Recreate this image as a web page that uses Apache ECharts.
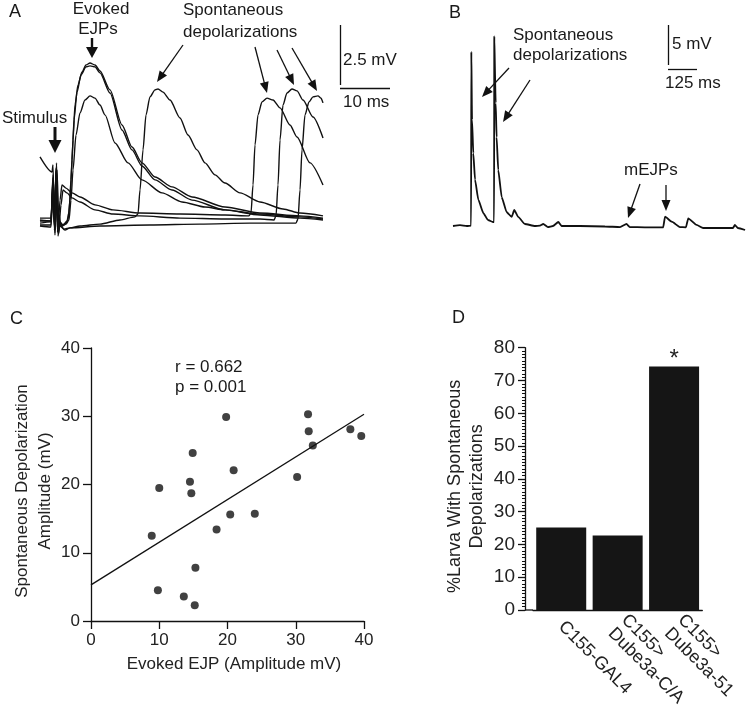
<!DOCTYPE html>
<html>
<head>
<meta charset="utf-8">
<script src="https://cdn.jsdelivr.net/npm/echarts@6/dist/echarts.min.js"></script>
<style>
html,body{margin:0;padding:0;background:#fff;}
#chart{width:748px;height:710px;}
</style>
</head>
<body>
<div id="chart"></div>
<script>
// ---------- Panel A: overlaid sweeps, time (ms) vs membrane potential (mV, relative) ----------
const sweepEvoked1 = [[0.4,2.63],[2.8,2.0],[3.0,2.29],[3.3,-0.42],[3.6,2.17],[3.9,-0.5],[4.2,0.21],[4.6,-0.25],[5.2,-0.17],[5.8,-0.04],[6.2,0.33],[6.6,1.67],[7.0,3.33],[7.4,4.79],[8.0,5.63],[8.8,6.17],[9.6,6.46],[10.4,6.54],[11.4,6.46],[12.4,6.21],[14.4,5.42],[16.8,3.96],[18.8,3.04],[20.8,2.38],[23.4,1.79],[26.8,1.38],[30.8,0.96],[37.4,0.54],[44.4,0.29],[52.4,0.17],[57.0,0.08]];
const sweepEvoked2 = [[0.4,0],[2.6,-0.04],[3.0,1.88],[3.4,-0.33],[3.7,2.38],[4.0,-0.67],[4.4,-0.08],[5.0,-0.21],[5.6,-0.13],[6.0,0],[6.4,0.83],[6.8,2.5],[7.2,4.17],[7.8,5.33],[8.6,6.04],[9.6,6.38],[10.4,6.42],[11.4,6.38],[12.4,6.13],[14.4,5.29],[16.8,3.75],[18.8,2.92],[20.8,2.25],[23.4,1.67],[26.8,1.25],[30.8,0.83],[37.4,0.42],[44.4,0.21],[52.4,0.08],[57.0,0]];
const sweepEvoked3 = [[0.4,-0.13],[2.6,-0.08],[3.0,1.67],[3.3,-0.21],[3.6,2.08],[3.9,-0.42],[4.2,0],[4.8,-0.25],[5.6,-0.17],[6.2,0],[6.6,0.83],[7.0,2.08],[7.6,3.54],[8.4,4.46],[9.4,5.0],[10.4,5.17],[11.4,5.08],[12.4,4.79],[13.4,4.38],[15.4,3.21],[18.0,2.38],[20.8,1.67],[24.8,1.13],[28.8,0.75],[33.4,0.54],[37.4,0.42],[44.4,0.25],[52.4,0.13],[57.0,0.04]];
const sweepSpont1 = [[0.4,-0.25],[2.6,-0.29],[3.0,1.46],[3.4,-0.63],[3.7,1.88],[4.0,-0.33],[4.4,-0.25],[5.4,-0.42],[6.4,-0.33],[8.4,-0.25],[12.4,-0.17],[16.4,0],[19.4,0.13],[20.0,0.25],[20.4,1.25],[21.0,2.92],[21.6,4.38],[22.4,5.13],[23.4,5.42],[24.0,5.46],[25.0,5.33],[26.4,5.0],[28.4,4.25],[30.0,3.54],[31.8,2.92],[33.4,2.38],[35.4,1.88],[37.4,1.54],[40.4,1.13],[44.4,0.75],[49.0,0.46],[52.4,0.29],[57.0,0.17]];
const sweepSpont2 = [[0.4,0.08],[2.6,0.08],[3.0,1.25],[3.3,-0.33],[3.6,2.0],[4.0,-0.5],[4.4,0.83],[4.8,1.46],[5.6,1.33],[6.8,1.13],[8.4,0.96],[11.4,0.63],[15.0,0.42],[20.4,0.29],[28.4,0.25],[37.4,0.21],[42.2,0.17],[42.6,0.29],[43.0,1.46],[43.4,3.13],[44.0,4.38],[44.8,4.92],[45.8,5.08],[47.0,5.0],[48.4,4.67],[50.4,3.96],[51.8,3.46],[54.4,2.38],[57.0,1.46]];
const sweepSpont3 = [[0.4,-0.04],[2.6,-0.04],[3.0,1.75],[3.4,-0.54],[3.8,2.08],[4.2,-0.25],[4.6,0.63],[5.0,1.25],[5.8,1.13],[6.8,0.92],[8.4,0.75],[11.4,0.42],[15.0,0.25],[20.4,0.17],[28.4,0.08],[37.4,0.04],[44.4,0.04],[47.2,0],[47.6,0.17],[48.0,1.46],[48.4,3.33],[49.0,4.79],[49.8,5.29],[50.8,5.46],[51.8,5.38],[53.0,5.0],[55.0,4.29],[57.0,3.42]];
const sweepSpont4 = [[0.4,-0.21],[2.6,-0.21],[3.0,1.58],[3.4,-0.42],[3.7,2.25],[4.1,-0.58],[4.4,-0.17],[5.2,-0.38],[6.4,-0.33],[12.4,-0.25],[22.4,-0.21],[32.4,-0.17],[42.4,-0.13],[51.6,-0.13],[52.0,0.04],[52.4,1.25],[52.8,2.92],[53.4,4.38],[54.2,4.92],[55.0,5.13],[56.0,5.17],[56.6,5.08],[57.0,4.88]];
const scaleBarA = {x: 60.4, y: 5.5, ms: 10, mV: 2.5, gap: 0.125};

// ---------- Panel B: continuous recording, time (ms) vs mV ----------
const recordingB = [[0,0],[30,0.1],[60,0],[78,0.05],[79,21.8],[80.5,21.8],[82,13.3],[87.5,9.1],[95,5.8],[109,3.3],[131,1.6],[151,0.75],[172,0.5],[177,0.5],[178,23.7],[179.5,23.7],[184,15.4],[188,11.1],[195,7.0],[210,3.6],[231,1.75],[253,1.13],[264,2.0],[281,1.13],[310,0.25],[353,0],[375,0.05],[389,0.25],[409,-0.13],[431,0],[454,0.5],[468,0],[547,0],[655,-0.06],[720,-0.13],[748,0.25],[762,-0.13],[827,-0.16],[906,-0.16],[914,1.16],[943,0.54],[978,-0.13],[1004,-0.16],[1014,0.96],[1050,0.13],[1078,-0.25],[1151,-0.25],[1207,-0.25],[1215,0.13],[1228,-0.25],[1259,-0.5]];
const scaleBarB = {x: 926.7, y: 19.625, ms: 125, mV: 5, gap: 0.5};

// ---------- Panel C: correlation ----------
const evokedEJP = [8.9, 10.0, 9.8, 14.5, 14.7, 14.9, 15.3, 13.6, 15.2, 18.4, 19.8, 20.4, 20.9, 24.0, 30.2, 31.8, 31.9, 32.5, 38.0, 39.6];
const spontAmp  = [12.5, 19.5, 4.5, 20.4, 18.7, 24.6, 7.8, 3.6, 2.3, 13.4, 29.9, 15.6, 22.1, 15.7, 21.1, 30.3, 27.8, 25.7, 28.1, 27.1];
const fitX = [0, 40];
const fitY = [5.3, 30.3];
const ticksC = [0, 10, 20, 30, 40];

// ---------- Panel D: bar chart ----------
const genotypes = ['C155-GAL4', 'C155>\nDube3a-C/A', 'C155>\nDube3a-51'];
const pctLarva = [25.2, 22.7, 74.3];
const significance = ['', '', '*'];

// ---------- helpers ----------
const FONT = '"Liberation Sans", Arial, Helvetica, sans-serif';
const INK = '#1a1a1a';
function txt(s, x, y, fs, align) {
  return {type: 'text', x: x, y: y, silent: true,
    style: {text: s, fontFamily: FONT, fontSize: fs, fill: INK, align: align || 'left', verticalAlign: 'middle'}};
}
function arrow(x1, y1, x2, y2, o) {
  o = o || {};
  const hl = o.hl || 11, hw = o.hw || 9, lw = o.lw || 1.3;
  const dx = x2 - x1, dy = y2 - y1, L = Math.hypot(dx, dy), ux = dx / L, uy = dy / L;
  const bx = x2 - ux * hl, by = y2 - uy * hl, px = -uy, py = ux;
  return [
    {type: 'line', silent: true, shape: {x1: x1, y1: y1, x2: bx + ux * 1, y2: by + uy * 1}, style: {stroke: '#111', lineWidth: lw}},
    {type: 'polygon', silent: true, shape: {points: [[x2, y2], [bx + px * hw / 2, by + py * hw / 2], [bx - px * hw / 2, by - py * hw / 2]]}, style: {fill: '#111'}}
  ];
}
function traceSeries(data, xi, w) {
  return {type: 'line', xAxisIndex: xi, yAxisIndex: xi, data: data, showSymbol: false, symbol: 'none',
    smooth: 0.25, smoothMonotone: 'x', silent: true, lineStyle: {color: '#111', width: w}, z: 3};
}
function scaleBars(sb) {
  return {silent: true, symbol: ['none', 'none'], label: {show: false}, animation: false,
    lineStyle: {color: '#111', width: 1.3, type: 'solid'},
    data: [
      [{coord: [sb.x, sb.y + sb.gap]}, {coord: [sb.x, sb.y + sb.gap + sb.mV]}],
      [{coord: [sb.x, sb.y]}, {coord: [sb.x + sb.ms, sb.y]}]
    ]};
}

const chart = echarts.init(document.getElementById('chart'), null, {renderer: 'canvas'});

const axisLineStyle = {color: '#111', width: 1.3};
const hiddenAxis = (gi, min, max) => ({gridIndex: gi, type: 'value', min: min, max: max, show: false});

const seriesA = [sweepEvoked1, sweepEvoked2, sweepEvoked3, sweepSpont1, sweepSpont2, sweepSpont3, sweepSpont4]
  .map(d => traceSeries(d, 0, 1.4));
seriesA[0].markLine = scaleBars(scaleBarA);
const seriesB = traceSeries(recordingB, 1, 1.8);
seriesB.smooth = 0.15;
seriesB.markLine = scaleBars(scaleBarB);

const graphics = [].concat(
  // panel letters
  txt('A', 9, 12, 18), txt('B', 449, 13, 18), txt('C', 10, 319, 18), txt('D', 452, 318, 18),
  // panel A annotations
  txt('Evoked', 101, 9, 17, 'center'), txt('EJPs', 98, 29, 17, 'center'),
  arrow(92, 38, 92, 58, {hl: 11, hw: 12, lw: 2.4}),
  txt('Stimulus', 2, 118, 17),
  arrow(55, 127, 55, 153, {hl: 13, hw: 13, lw: 3}),
  txt('Spontaneous', 183, 10, 17), txt('depolarizations', 183, 32, 17),
  arrow(183, 45, 157, 82), arrow(255, 47, 267, 93), arrow(277, 50, 294, 85), arrow(292, 48, 317, 91),
  txt('2.5 mV', 343, 60, 17), txt('10 ms', 343, 102, 17),
  // panel B annotations
  txt('Spontaneous', 513, 35, 17), txt('depolarizations', 513, 55, 17),
  arrow(509, 68, 482, 97), arrow(530, 80, 503, 122),
  txt('5 mV', 672, 44, 17), txt('125 ms', 665, 83, 17),
  txt('mEJPs', 624, 170, 17),
  arrow(640, 184, 628, 218), arrow(666, 185, 666, 211),
  // panel C statistics
  txt('r = 0.662', 175, 367, 17), txt('p = 0.001', 175, 387, 17),
  // panel D: join x axis to offset y axis
  [{type: 'line', silent: true, shape: {x1: 525, y1: 610, x2: 533, y2: 610}, style: {stroke: '#111', lineWidth: 1.3}}]
);

const option = {
  animation: false,
  backgroundColor: '#ffffff',
  textStyle: {fontFamily: FONT},
  grid: [
    {left: 38, top: 16, width: 360, height: 228},
    {left: 453, top: 18, width: 292.3, height: 216},
    {left: 91, top: 348, width: 273, height: 273},
    {left: 533, top: 347.7, width: 197, height: 262.3}
  ],
  xAxis: [
    hiddenAxis(0, 0, 72),
    hiddenAxis(1, 0, 1260),
    {gridIndex: 2, type: 'value', min: ticksC[0], max: ticksC[ticksC.length - 1], interval: 10,
      axisLine: {show: true, onZero: false, lineStyle: axisLineStyle},
      axisTick: {show: true, length: 8, lineStyle: axisLineStyle},
      axisLabel: {fontSize: 17, color: '#222', margin: 11, fontFamily: FONT},
      splitLine: {show: false},
      name: 'Evoked EJP (Amplitude mV)', nameLocation: 'middle', nameGap: 35,
      nameTextStyle: {fontSize: 17, color: '#222', fontFamily: FONT, padding: [0, 0, 0, 13]}},
    {gridIndex: 3, type: 'category', data: genotypes,
      axisLine: {show: true, lineStyle: axisLineStyle},
      axisTick: {show: false},
      axisLabel: {rotate: -45, interval: 0, fontSize: 18, color: '#222', margin: 14, fontFamily: FONT, lineHeight: 19}}
  ],
  yAxis: [
    hiddenAxis(0, -1, 8.5),
    hiddenAxis(1, -1, 26),
    {gridIndex: 2, type: 'value', min: ticksC[0], max: ticksC[ticksC.length - 1], interval: 10,
      axisLine: {show: true, onZero: false, lineStyle: axisLineStyle},
      axisTick: {show: true, length: 8, lineStyle: axisLineStyle},
      axisLabel: {fontSize: 17, color: '#222', margin: 11, fontFamily: FONT},
      splitLine: {show: false},
      name: 'Spontaneous Depolarization\nAmplitude (mV)', nameLocation: 'middle', nameRotate: 90, nameGap: 32,
      nameTextStyle: {fontSize: 17, color: '#222', fontFamily: FONT, lineHeight: 23, padding: [0, 13, 0, 0]}},
    {gridIndex: 3, type: 'value', min: 0, max: 80, interval: 10, offset: 8,
      axisLine: {show: true, onZero: false, lineStyle: axisLineStyle},
      axisTick: {show: true, length: 7, lineStyle: axisLineStyle},
      minorTick: {show: true, splitNumber: 10, length: 3, lineStyle: {color: '#111', width: 1}},
      axisLabel: {fontSize: 19, color: '#222', margin: 10, fontFamily: FONT},
      splitLine: {show: false}, minorSplitLine: {show: false},
      name: '%Larva With Spontaneous\nDepolarizations', nameLocation: 'middle', nameRotate: 90, nameGap: 37,
      nameTextStyle: {fontSize: 18, color: '#222', fontFamily: FONT, lineHeight: 22, padding: [0, 15, 0, 0]}}
  ],
  series: seriesA.concat([
    seriesB,
    {type: 'scatter', xAxisIndex: 2, yAxisIndex: 2, symbol: 'circle', symbolSize: 8,
      itemStyle: {color: '#111'}, silent: true, z: 4,
      data: evokedEJP.map((x, i) => [x, spontAmp[i]])},
    {type: 'line', xAxisIndex: 2, yAxisIndex: 2, showSymbol: false, symbol: 'none', silent: true,
      lineStyle: {color: '#111', width: 1.3},
      data: fitX.map((x, i) => [x, fitY[i]])},
    {type: 'bar', xAxisIndex: 3, yAxisIndex: 3, barWidth: 50, silent: true,
      itemStyle: {color: '#151515'},
      data: pctLarva.map((v, i) => ({value: v,
        label: {show: significance[i] !== '', position: 'top', formatter: significance[i], fontSize: 24, color: '#222', distance: -5, fontFamily: FONT}}))}
  ]),
  graphic: {elements: graphics}
};
chart.setOption(option);
</script>
</body>
</html>
